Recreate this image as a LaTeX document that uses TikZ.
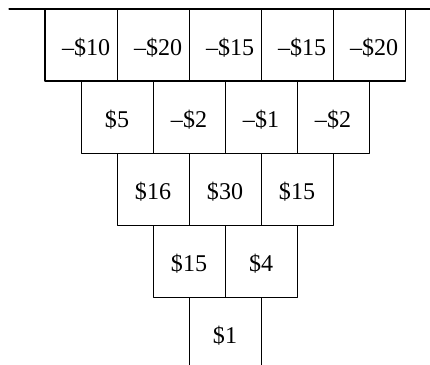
\documentclass[tikz,border=0pt]{standalone}
\usepackage{fontspec}
\setmainfont{Liberation Serif}
\usepackage{tikz}

\tikzset{
  cell/.style={draw, rectangle, minimum size=1cm, inner sep=0pt, outer sep=0pt,
    font=\fontsize{9.5}{11}\selectfont, text height=8.2pt, text depth=0pt},
  toprow/.style={cell, execute at begin node=\hspace*{1.4mm}}
}

\begin{document}
\begin{tikzpicture}[line cap=round,line join=round,x=1.0cm,y=1.0cm]
\clip (0,0) rectangle (5.972,5.056);

% rule on top
\coordinate (ruleL) at (0.125,4.931);
\coordinate (ruleR) at (5.972,4.931);
\draw (ruleL)--(ruleR);

% row 1
\node[toprow] (a1) at (1.125,4.431) {–\$10};
\node[toprow] (a2) at (2.125,4.431) {–\$20};
\node[toprow] (a3) at (3.125,4.431) {–\$15};
\node[toprow] (a4) at (4.125,4.431) {–\$15};
\node[toprow] (a5) at (5.125,4.431) {–\$20};

% row 2
\node[cell] (b1) at (1.625,3.431) {\$5};
\node[cell] (b2) at (2.625,3.431) {–\$2};
\node[cell] (b3) at (3.625,3.431) {–\$1};
\node[cell] (b4) at (4.625,3.431) {–\$2};

% row 3
\node[cell] (c1) at (2.125,2.431) {\$16};
\node[cell] (c2) at (3.125,2.431) {\$30};
\node[cell] (c3) at (4.125,2.431) {\$15};

% row 4
\node[cell] (d1) at (2.625,1.431) {\$15};
\node[cell] (d2) at (3.625,1.431) {\$4};

% row 5
\node[cell] (e1) at (3.125,0.431) {\$1};
\end{tikzpicture}
\end{document}
